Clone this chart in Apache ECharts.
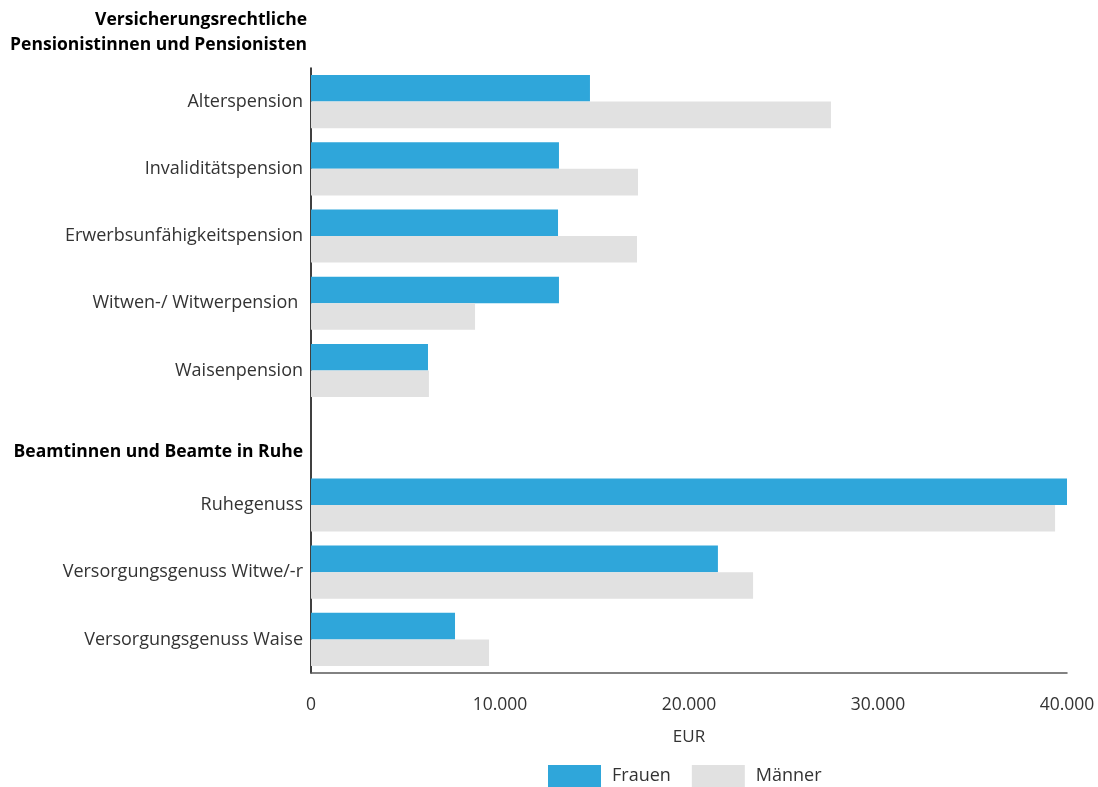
<!DOCTYPE html>
<html>
<head>
<meta charset="utf-8">
<script src="https://cdn.jsdelivr.net/npm/echarts@6/dist/echarts.min.js"></script>
<style>
html, body { margin: 0; padding: 0; background: #fff; }
#chart { width: 1098px; height: 787px; }
</style>
</head>
<body>
<div id="chart"></div>
<script>
// categories, top to bottom; the empty slot carries the second group heading
const categories = [
  'Alterspension',
  'Invaliditätspension',
  'Erwerbsunfähigkeitspension',
  'Witwen-/ Witwerpension ',
  'Waisenpension',
  'Beamtinnen und Beamte in Ruhe',
  'Ruhegenuss',
  'Versorgungsgenuss Witwe/-r',
  'Versorgungsgenuss Waise'
]
const groupHeading = 'Beamtinnen und Beamte in Ruhe'
const topHeading = 'Versicherungsrechtliche\nPensionistinnen und Pensionisten'

const frauen = [14760, 13120, 13070, 13120, 6190, '-', 40000, 21530, 7620]
const maenner = [27510, 17300, 17250, 8680, 6240, '-', 39370, 23390, 9420]

const xTicks = [0, 10000, 20000, 30000, 40000]

const font = 'Open Sans'
const chart = echarts.init(document.getElementById('chart'))

function fmtDe (v) {
  return String(v).replace(/\B(?=(\d{3})+(?!\d))/g, '.')
}

chart.setOption({
  backgroundColor: '#fff',
  animation: false,
  textStyle: { fontFamily: font },
  graphic: [{
    type: 'text',
    x: 307,
    y: 8,
    style: {
      text: topHeading,
      font: 'bold 17.5px "' + font + '"',
      fill: '#000',
      align: 'right',
      lineHeight: 25
    }
  }],
  grid: {
    left: 311,
    right: 1098 - 1067,
    top: 68,
    bottom: 787 - 673
  },
  legend: {
    left: 548,
    top: 765,
    padding: 0,
    itemWidth: 53,
    itemHeight: 22,
    itemGap: 21,
    icon: 'rect',
    textStyle: { fontFamily: font, fontSize: 18, color: '#333', padding: [0, 0, 0, 6] },
    data: ['Frauen', 'Männer']
  },
  xAxis: {
    type: 'value',
    min: xTicks[0],
    max: xTicks[xTicks.length - 1],
    interval: 10000,
    name: 'EUR',
    nameLocation: 'middle',
    nameGap: 56,
    nameTextStyle: { fontFamily: font, fontSize: 17, color: '#333' },
    axisLine: { show: true, lineStyle: { color: '#595959', width: 1.5 } },
    axisTick: { show: false },
    splitLine: { show: false },
    axisLabel: {
      margin: 23,
      fontFamily: font,
      fontSize: 17.5,
      color: '#333',
      formatter: fmtDe
    }
  },
  yAxis: {
    type: 'category',
    inverse: true,
    data: categories,
    axisLine: { show: true, lineStyle: { color: '#000', width: 1.5 } },
    axisTick: { show: false },
    axisLabel: {
      margin: 8,
      fontFamily: font,
      fontSize: 18,
      color: '#333',
      formatter: function (v) {
        return v === groupHeading ? '{h|' + v + '}' : v
      },
      rich: {
        h: { fontFamily: font, fontSize: 17.5, fontWeight: 'bold', color: '#000', padding: [28, 0, 0, 0] }
      }
    }
  },
  series: [
    {
      name: 'Frauen',
      type: 'bar',
      data: frauen,
      barGap: '0%',
      barCategoryGap: '21%',
      itemStyle: { color: '#2fa6da' }
    },
    {
      name: 'Männer',
      type: 'bar',
      data: maenner,
      itemStyle: { color: '#e1e1e1' }
    }
  ]
})
</script>
</body>
</html>
